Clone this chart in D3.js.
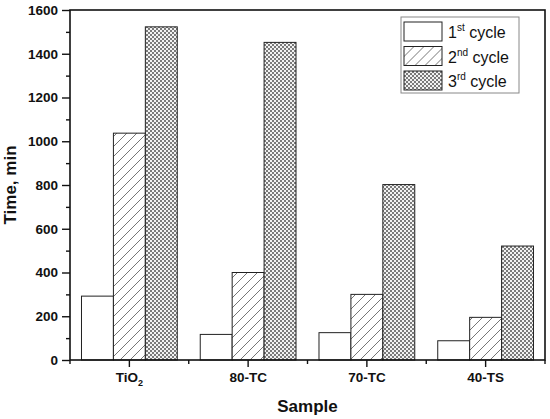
<!DOCTYPE html>
<html>
<head>
<meta charset="utf-8">
<script src="https://cdn.jsdelivr.net/npm/d3@7"></script>
<style>
    body { margin: 0; background: #fff; }
    text { font-family: Arial, 'Liberation Sans', sans-serif; }
</style>
</head>
<body>
<div id="chart-area"></div>
<script>
'use strict';

// data
let samples = ['TiO2', '80-TC', '70-TC', '40-TS'];
let cycles = ['1st', '2nd', '3rd'];
let cycle1 = [292, 117, 125, 88];
let cycle2 = [1037, 400, 300, 195];
let cycle3 = [1523, 1452, 802, 521];
let yTicks = [0, 200, 400, 600, 800, 1000, 1200, 1400, 1600];
let yMinor = [100, 300, 500, 700, 900, 1100, 1300, 1500];

let series = [cycle1, cycle2, cycle3];

let margin = { left: 70, right: 5, top: 10, bottom: 59 };
let W = 550, H = 419;
let w = W - margin.left - margin.right;
let h = H - margin.top - margin.bottom;

let svg = d3.select('#chart-area').append('svg')
    .attr('width', W)
    .attr('height', H);

// fill patterns
let defs = svg.append('defs');
let hatch = defs.append('pattern')
    .attr('id', 'hatch')
    .attr('patternUnits', 'userSpaceOnUse')
    .attr('width', 10)
    .attr('height', 10);
hatch.append('rect').attr('width', 10).attr('height', 10).attr('fill', '#fff');
hatch.append('path')
    .attr('d', 'M0,10 L10,0 M-3,3 L3,-3 M7,13 L13,7')
    .attr('stroke', '#666')
    .attr('stroke-width', 0.9);

let check = defs.append('pattern')
    .attr('id', 'check')
    .attr('patternUnits', 'userSpaceOnUse')
    .attr('width', 4)
    .attr('height', 4);
check.append('rect').attr('width', 4).attr('height', 4).attr('fill', '#f2f2f2');
check.append('rect').attr('width', 2).attr('height', 2).attr('fill', '#7a7a7a');
check.append('rect').attr('x', 2).attr('y', 2).attr('width', 2).attr('height', 2).attr('fill', '#7a7a7a');

let fills = ['#fff', 'url(#hatch)', 'url(#check)'];

let g = svg.append('g')
    .attr('transform', 'translate(' + margin.left + ',' + margin.top + ')');

let x = d3.scaleBand()
    .domain(samples)
    .range([0, w])
    .padding(0);

let xc = d3.scaleBand()
    .domain(cycles)
    .range([0, x.bandwidth()])
    .paddingInner(0)
    .paddingOuter(0.36);

let y = d3.scaleLinear()
    .domain([0, 1600])
    .range([h, 0]);

// bars
series.forEach((vals, k) => {
    g.selectAll('.bar' + k)
        .data(vals)
        .enter()
        .append('rect')
            .attr('class', 'bar' + k)
            .attr('x', (d, i) => x(samples[i]) + xc(cycles[k]))
            .attr('y', (d) => y(d))
            .attr('width', xc.bandwidth())
            .attr('height', (d) => h - y(d))
            .attr('fill', fills[k])
            .attr('stroke', '#222')
            .attr('stroke-width', 1);
});

// frame
g.append('rect')
    .attr('width', w)
    .attr('height', h)
    .attr('fill', 'none')
    .attr('stroke', '#111')
    .attr('stroke-width', 1.6);

// y axis
let yAxis = d3.axisLeft(y)
    .tickValues(yTicks)
    .tickFormat(d3.format('d'))
    .tickSize(8)
    .tickPadding(4);
let ya = g.append('g').call(yAxis);
ya.select('.domain').remove();
ya.selectAll('line').attr('stroke', '#111').attr('stroke-width', 1.4);
ya.selectAll('text')
    .attr('font-size', '13.5px')
    .attr('font-weight', 'bold')
    .attr('fill', '#111')
    .style('font-family', 'Arial, "Liberation Sans", sans-serif');

let yMin = g.append('g').call(d3.axisLeft(y).tickValues(yMinor).tickSize(4).tickFormat(''));
yMin.select('.domain').remove();
yMin.selectAll('line').attr('stroke', '#111').attr('stroke-width', 1.4);

// x axis
let xAxis = d3.axisBottom(x)
    .tickSize(7)
    .tickPadding(5);
let xa = g.append('g')
    .attr('transform', 'translate(0,' + h + ')')
    .call(xAxis);
xa.select('.domain').remove();
xa.selectAll('line').attr('stroke', '#111').attr('stroke-width', 1.4);
xa.selectAll('text')
    .attr('font-size', '13.5px')
    .attr('font-weight', 'bold')
    .attr('fill', '#111')
    .style('font-family', 'Arial, "Liberation Sans", sans-serif')
    .each(function(d) {
        if (d === 'TiO2') {
            let t = d3.select(this).text('TiO');
            t.append('tspan').attr('font-size', '9px').attr('dy', '4').text('2');
        }
    });

// minor x ticks at band edges
let edges = samples.map((s) => x(s)).concat([w]);
g.selectAll('.xminor')
    .data(edges)
    .enter()
    .append('line')
        .attr('class', 'xminor')
        .attr('x1', (d) => d)
        .attr('x2', (d) => d)
        .attr('y1', h)
        .attr('y2', h + 4)
        .attr('stroke', '#111')
        .attr('stroke-width', 1.4);

// axis titles
svg.append('text')
    .attr('x', margin.left + w / 2)
    .attr('y', 412)
    .attr('text-anchor', 'middle')
    .attr('font-size', '17px')
    .attr('font-weight', 'bold')
    .attr('fill', '#111')
    .text('Sample');

svg.append('text')
    .attr('transform', 'translate(16,' + (margin.top + h / 2) + ') rotate(-90)')
    .attr('text-anchor', 'middle')
    .attr('font-size', '17px')
    .attr('font-weight', 'bold')
    .attr('fill', '#111')
    .text('Time, min');

// legend
let leg = svg.append('g').attr('transform', 'translate(401,17)');
leg.append('rect')
    .attr('width', 118)
    .attr('height', 76)
    .attr('fill', '#fff')
    .attr('stroke', '#888')
    .attr('stroke-width', 1);

let sups = ['st', 'nd', 'rd'];
cycles.forEach((c, k) => {
    let row = leg.append('g').attr('transform', 'translate(3,' + (5 + k * 24.5) + ')');
    row.append('rect')
        .attr('width', 38)
        .attr('height', 19)
        .attr('fill', fills[k])
        .attr('stroke', '#222')
        .attr('stroke-width', 1);
    let t = row.append('text')
        .attr('x', 44)
        .attr('y', 16)
        .attr('font-size', '16px')
        .attr('fill', '#111');
    t.append('tspan').text(c.charAt(0));
    t.append('tspan').attr('font-size', '10px').attr('dy', '-7').text(sups[k]);
    t.append('tspan').attr('dy', '7').text(' cycle');
});
</script>
</body>
</html>
